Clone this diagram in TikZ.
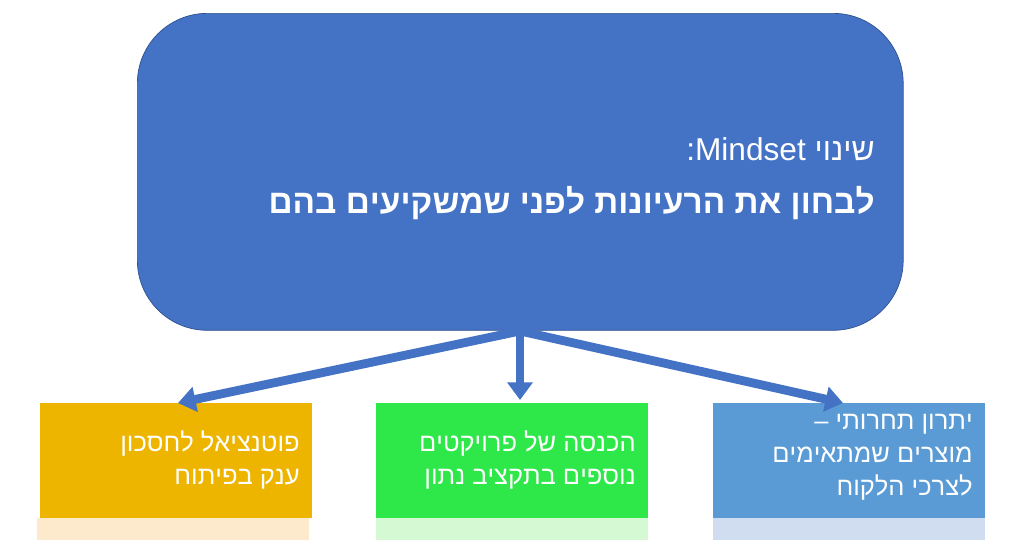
\documentclass[tikz,border=0pt]{standalone}
\usepackage{fontspec}
\setmainfont{Liberation Sans}
\TeXXeTstate=1
\usetikzlibrary{arrows.meta}
\definecolor{mainblue}{HTML}{4472C4}
\definecolor{darkblue}{HTML}{2F528F}
\definecolor{gold}{HTML}{EDB500}
\definecolor{goldlight}{HTML}{FDE9CC}
\definecolor{brightgreen}{HTML}{2EE84A}
\definecolor{greenlight}{HTML}{D5F9D2}
\definecolor{skyblue}{HTML}{5B9BD5}
\definecolor{bluelight}{HTML}{D0DDF0}
\newcommand{\heb}[1]{\beginR #1\endR}
\begin{document}
\begin{tikzpicture}[x=0.02cm,y=-0.02cm,
  box/.style={minimum width=5.44cm,minimum height=2.3cm,anchor=north west,inner sep=0pt},
  boxtext/.style={anchor=north east,align=right,inner sep=0pt,text=white,
    font=\fontsize{14.5}{18.8}\selectfont},
  strip/.style={minimum width=5.44cm,minimum height=0.44cm,anchor=north west,inner sep=0pt},
  link/.style={mainblue,line width=5pt,-{Triangle[length=10pt,width=14pt]}}]
\useasboundingbox (0,0) rectangle (1018,559);

%Top block
\node (mindset) [draw=darkblue,fill=mainblue,rounded corners=1.4cm,anchor=north west,
  minimum width=15.32cm,minimum height=6.34cm,inner sep=0pt] at (137,13) {};
\node (titleA) [anchor=base east,text=white,inner sep=0pt,font=\fontsize{18}{20}\selectfont]
  at (875,160) {\heb{שינוי \beginL Mindset\endL:}};
\node (titleB) [anchor=base east,text=white,inner sep=0pt,font=\fontsize{19}{20}\selectfont\bfseries]
  at (875,213) {\heb{לבחון את הרעיונות לפני שמשקיעים בהם}};

%Bottom boxes
\node (saving) [box,fill=gold] at (40,403) {};
\node (savingText) [boxtext] at (300,430) {\heb{פוטנציאל לחסכון}\\\heb{ענק בפיתוח}};
\node (savingStrip) [strip,fill=goldlight] at (37,518) {};
\node (projects) [box,fill=brightgreen] at (376,403) {};
\node (projectsText) [boxtext] at (636,430) {\heb{הכנסה של פרויקטים}\\\heb{נוספים בתקציב נתון}};
\node (projectsStrip) [strip,fill=greenlight] at (376,518) {};
\node (advantage) [box,fill=skyblue] at (713,403) {};
\node (advantageText) [boxtext] at (973,414) {\heb{יתרון תחרותי –}\\\heb{מוצרים שמתאימים}\\\heb{לצרכי הלקוח}};
\node (advantageStrip) [strip,fill=bluelight] at (713,518) {};

%Links
\coordinate (hub) at (520,331);
\draw [link] (hub) -- (178,403);
\draw [link] (hub) -- (520,400);
\draw [link] (hub) -- (843,403);
\end{tikzpicture}
\end{document}
